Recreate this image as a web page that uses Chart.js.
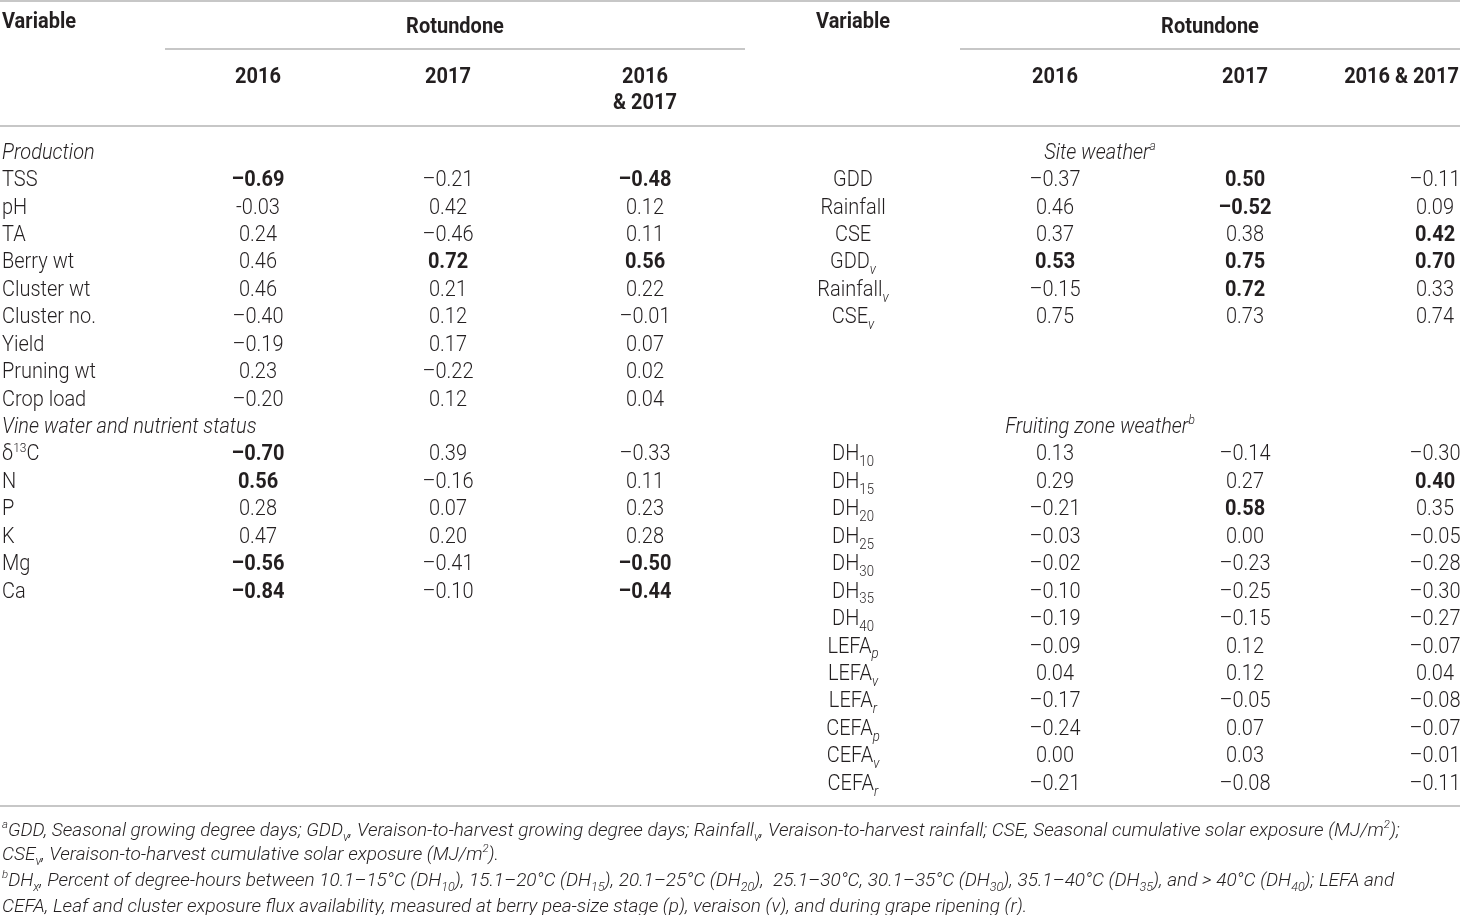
<!DOCTYPE html>
<html>
<head>
    <title>Rotundone correlations</title>
    <script src="https://cdn.jsdelivr.net/npm/chart.js"></script>
    <style>
        html, body { margin: 0; padding: 0; background: #ffffff; }
        canvas { display: block; }
    </style>
</head>
<body>
    <canvas id="tableChart" width="1460" height="915"></canvas>

    <script>
        // ---- table values ----
        const productionVars = ['TSS', 'pH', 'TA', 'Berry wt', 'Cluster wt', 'Cluster no.', 'Yield', 'Pruning wt', 'Crop load'];
        const production2016 = [-0.69, -0.03, 0.24, 0.46, 0.46, -0.40, -0.19, 0.23, -0.20];
        const production2017 = [-0.21, 0.42, -0.46, 0.72, 0.21, 0.12, 0.17, -0.22, 0.12];
        const productionBoth = [-0.48, 0.12, 0.11, 0.56, 0.22, -0.01, 0.07, 0.02, 0.04];

        const vineVars = ['δ^{13}C', 'N', 'P', 'K', 'Mg', 'Ca'];
        const vine2016 = [-0.70, 0.56, 0.28, 0.47, -0.56, -0.84];
        const vine2017 = [0.39, -0.16, 0.07, 0.20, -0.41, -0.10];
        const vineBoth = [-0.33, 0.11, 0.23, 0.28, -0.50, -0.44];

        const siteVars = ['GDD', 'Rainfall', 'CSE', 'GDD_{v}', 'Rainfall_{v}', 'CSE_{v}'];
        const site2016 = [-0.37, 0.46, 0.37, 0.53, -0.15, 0.75];
        const site2017 = [0.50, -0.52, 0.38, 0.75, 0.72, 0.73];
        const siteBoth = [-0.11, 0.09, 0.42, 0.70, 0.33, 0.74];

        const fruitVars = ['DH_{10}', 'DH_{15}', 'DH_{20}', 'DH_{25}', 'DH_{30}', 'DH_{35}', 'DH_{40}',
                           'LEFA_{p}', 'LEFA_{v}', 'LEFA_{r}', 'CEFA_{p}', 'CEFA_{v}', 'CEFA_{r}'];
        const fruit2016 = [0.13, 0.29, -0.21, -0.03, -0.02, -0.10, -0.19, -0.09, 0.04, -0.17, -0.24, 0.00, -0.21];
        const fruit2017 = [-0.14, 0.27, 0.58, 0.00, -0.23, -0.25, -0.15, 0.12, 0.12, -0.05, 0.07, 0.03, -0.08];
        const fruitBoth = [-0.30, 0.40, 0.35, -0.05, -0.28, -0.30, -0.27, -0.07, 0.04, -0.08, -0.07, -0.01, -0.11];

        // columns printed in bold (0 = 2016, 1 = 2017, 2 = 2016 & 2017)
        const boldCells = {
            'TSS': [0, 2], 'Berry wt': [1, 2], 'δ^{13}C': [0], 'N': [0], 'Mg': [0, 2], 'Ca': [0, 2],
            'GDD': [1], 'Rainfall': [1], 'CSE': [2], 'GDD_{v}': [0, 1, 2], 'Rainfall_{v}': [1],
            'DH_{15}': [2], 'DH_{20}': [1]
        };
        // the source prints this one cell with a plain hyphen
        const hyphenCells = ['pH'];

        const leftSections = ['Production', 'Vine water and nutrient status'];
        const rightSections = ['Site weather^{a}', 'Fruiting zone weather^{b}'];
        const yearHeaders = ['2016', '2017', '2016', '& 2017', '2016 & 2017'];

        const footnotes = [
            '^{a}GDD, Seasonal growing degree days; GDD_{v}, Veraison-to-harvest growing degree days; Rainfall_{v}, Veraison-to-harvest rainfall; CSE, Seasonal cumulative solar exposure (MJ/m^{2});',
            'CSE_{v}, Veraison-to-harvest cumulative solar exposure (MJ/m^{2}).',
            '^{b}DH_{x}, Percent of degree-hours between 10.1–15°C (DH_{10}), 15.1–20°C (DH_{15}), 20.1–25°C (DH_{20}),  25.1–30°C, 30.1–35°C (DH_{30}), 35.1–40°C (DH_{35}), and > 40°C (DH_{40}); LEFA and',
            'CEFA, Leaf and cluster exposure flux availability, measured at berry pea-size stage (p), veraison (v), and during grape ripening (r).'
        ];

        // ---- layout ----
        const FIRST_ROW_PX = 151;
        const ROW_PITCH = 27.44;
        const pxRow = p => (p - FIRST_ROW_PX) / ROW_PITCH;
        const COL = {
            leftLabel: 2, left2016: 258, left2017: 448, leftBoth: 645,
            rightLabel: 853, right2016: 1055, right2017: 1245, rightBoth: 1435,
            rightSection: 1100, rightEdge: 1459
        };
        const FONT = 'Roboto';
        const TEXT = '#231f20';
        const RULE = '#b4b4b4';
        const BODY_SIZE = 21.5;
        const BODY_SX = 0.93;   // the printed face is a little condensed

        function fmt(v, name) {
            const s = Math.abs(v).toFixed(2);
            if (v < 0) return (hyphenCells.includes(name) ? '-' : '–') + s;
            return s;
        }

        function parseRich(str) {
            const out = [];
            str.split(/(_\{[^}]*\}|\^\{[^}]*\})/).forEach(p => {
                if (!p) return;
                if (p.startsWith('_{')) out.push({ t: p.slice(2, -1), m: 'sub' });
                else if (p.startsWith('^{')) out.push({ t: p.slice(2, -1), m: 'sup' });
                else out.push({ t: p, m: 'n' });
            });
            return out;
        }

        function fontFor(seg, st) {
            let size = st.size;
            let italic = st.italic;
            if (seg.m === 'sub') { size = st.size * 0.66; if (/[a-z]/.test(seg.t)) italic = true; }
            if (seg.m === 'sup') size = st.size * 0.6;
            return (italic ? 'italic ' : '') + (st.bold ? 700 : 300) + ' ' + size.toFixed(1) + 'px ' + FONT;
        }

        function drawRich(ctx, str, x, y, align, st) {
            const segs = parseRich(str);
            const sx = st.sx || 1;
            let total = 0;
            segs.forEach(s => { ctx.font = fontFor(s, st); s.w = ctx.measureText(s.t).width * sx; total += s.w; });
            let cx = x;
            if (align === 'center') cx = x - total / 2;
            if (align === 'right') cx = x - total;
            const base = y + st.size * 0.355;
            ctx.textAlign = 'left';
            ctx.textBaseline = 'alphabetic';
            ctx.fillStyle = TEXT;
            segs.forEach(s => {
                ctx.font = fontFor(s, st);
                let dy = 0;
                if (s.m === 'sub') dy = st.size * 0.27;
                if (s.m === 'sup') dy = -st.size * 0.4;
                ctx.save();
                ctx.translate(cx, base + dy);
                ctx.scale(sx, 1);
                ctx.fillText(s.t, 0, 0);
                ctx.restore();
                cx += s.w;
            });
        }

        const tableText = {
            id: 'tableText',
            afterDatasetsDraw(chart) {
                const ctx = chart.ctx;
                ctx.save();
                chart.data.datasets.forEach((ds, i) => {
                    if (!ds.texts) return;
                    chart.getDatasetMeta(i).data.forEach((pt, j) => {
                        const bold = ds.bolds ? ds.bolds[j] : !!ds.bold;
                        drawRich(ctx, ds.texts[j], pt.x, pt.y, ds.align,
                                 { size: ds.size, sx: ds.sx, bold: bold, italic: !!ds.italic });
                    });
                });
                ctx.restore();
            }
        };

        // ---- datasets ----
        const datasets = [];

        function rule(x0, x1, px) {
            datasets.push({
                type: 'line', data: [{ x: x0, y: pxRow(px) }, { x: x1, y: pxRow(px) }],
                borderColor: RULE, borderWidth: 1.5, pointRadius: 0, showLine: true
            });
        }
        function cells(xs, rows, texts, opts) {
            datasets.push(Object.assign({
                type: 'scatter',
                data: rows.map((r, k) => ({ x: Array.isArray(xs) ? xs[k] : xs, y: r })),
                texts: texts, pointRadius: 0, align: 'center', size: BODY_SIZE, sx: BODY_SX
            }, opts));
        }
        function block(vars, v16, v17, vBoth, startRow, cols, labelX, labelAlign) {
            const rows = vars.map((_, k) => startRow + k);
            cells(labelX, rows, vars, { align: labelAlign });
            [v16, v17, vBoth].forEach((vals, c) => {
                cells(cols[c], rows, vals.map((v, k) => fmt(v, vars[k])), {
                    bolds: vars.map(n => (boldCells[n] || []).includes(c))
                });
            });
        }

        rule(0, 1460, 1);
        rule(165, 745, 49);
        rule(960, 1460, 49);
        rule(0, 1460, 126);
        rule(0, 1460, 806);

        // header
        cells(COL.leftLabel, [pxRow(20)], ['Variable'], { align: 'left', bold: true });
        cells(COL.rightLabel, [pxRow(20)], ['Variable'], { bold: true });
        cells([455, 1210], [pxRow(25), pxRow(25)], ['Rotundone', 'Rotundone'], { bold: true });
        cells([COL.left2016, COL.left2017, COL.leftBoth, COL.leftBoth, COL.right2016, COL.right2017],
              [pxRow(75), pxRow(75), pxRow(75), pxRow(101), pxRow(75), pxRow(75)],
              [yearHeaders[0], yearHeaders[1], yearHeaders[2], yearHeaders[3], yearHeaders[0], yearHeaders[1]],
              { bold: true });
        cells(COL.rightEdge, [pxRow(75)], [yearHeaders[4]], { bold: true, align: 'right' });

        // section headings
        cells(COL.leftLabel, [0, 10], leftSections, { align: 'left', italic: true });
        cells(COL.rightSection, [0, 10], rightSections, { italic: true });

        // body
        const leftCols = [COL.left2016, COL.left2017, COL.leftBoth];
        const rightCols = [COL.right2016, COL.right2017, COL.rightBoth];
        block(productionVars, production2016, production2017, productionBoth, 1, leftCols, COL.leftLabel, 'left');
        block(vineVars, vine2016, vine2017, vineBoth, 11, leftCols, COL.leftLabel, 'left');
        block(siteVars, site2016, site2017, siteBoth, 1, rightCols, COL.rightLabel, 'center');
        block(fruitVars, fruit2016, fruit2017, fruitBoth, 11, rightCols, COL.rightLabel, 'center');

        // footnotes
        cells(COL.leftLabel, [829, 853, 879, 905].map(pxRow), footnotes,
              { align: 'left', italic: true, size: 19, sx: 1.0 });

        new Chart(document.getElementById('tableChart').getContext('2d'), {
            type: 'scatter',
            data: { datasets: datasets },
            options: {
                responsive: false,
                animation: false,
                events: [],
                layout: { padding: 0, autoPadding: false },
                scales: {
                    x: { type: 'linear', min: 0, max: 1460, display: false },
                    y: { type: 'linear', min: pxRow(0), max: pxRow(915), reverse: true, display: false }
                },
                plugins: { legend: { display: false }, tooltip: { enabled: false } },
                elements: { line: { tension: 0 } }
            },
            plugins: [tableText]
        });
    </script>
</body>
</html>
